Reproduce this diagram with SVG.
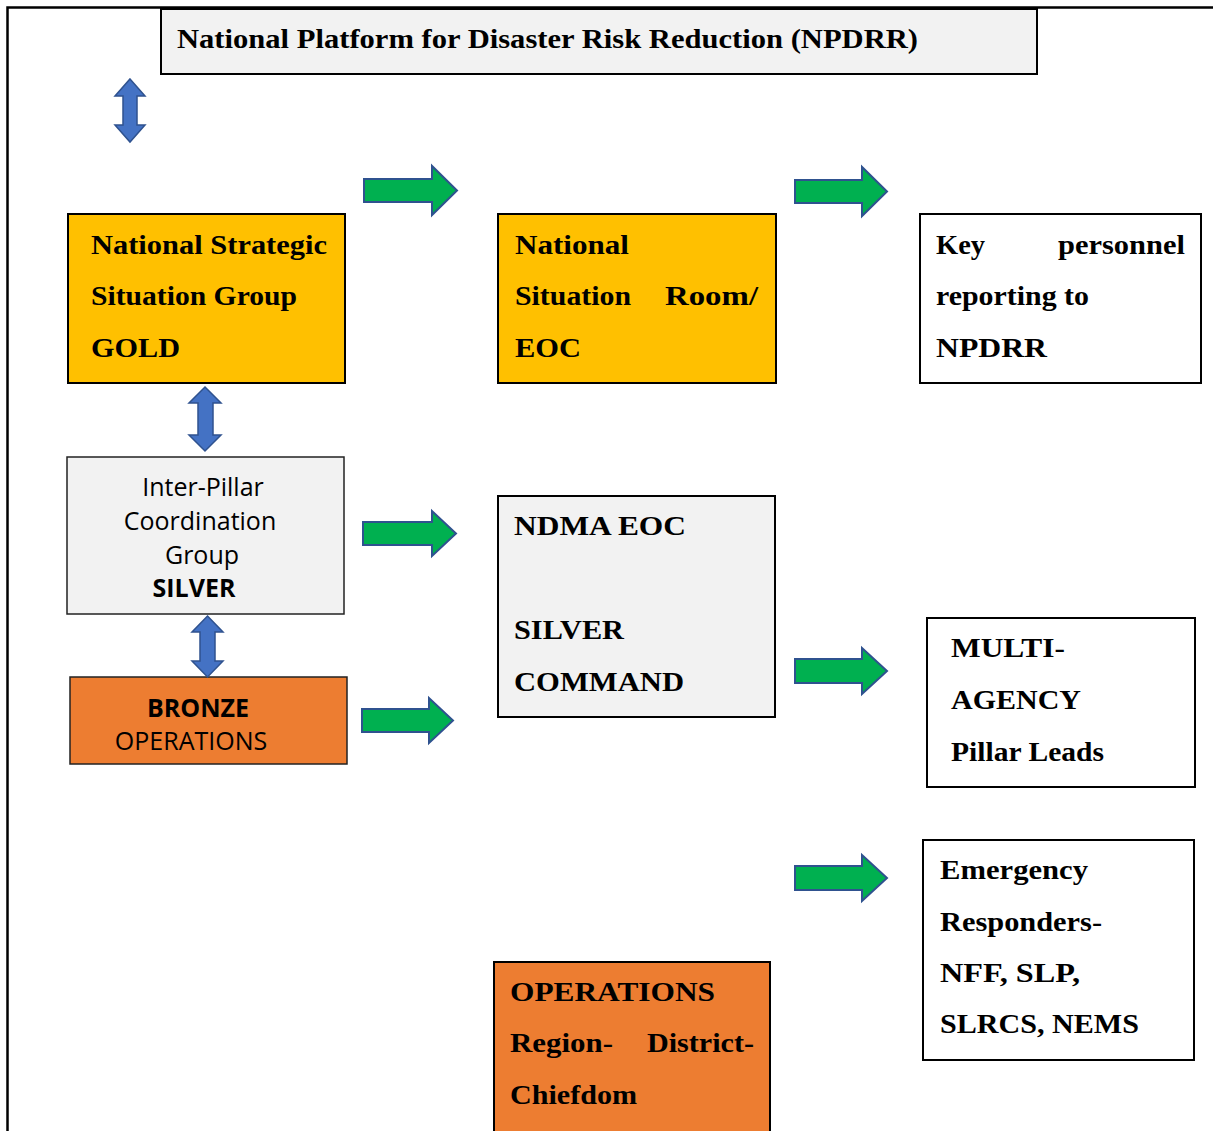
<svg xmlns="http://www.w3.org/2000/svg" width="1213" height="1131" viewBox="0 0 1213 1131">
<style>
.box{stroke:#000;stroke-width:2}
.thin{stroke:#222;stroke-width:1.5}
.gold{fill:#ffc000}
.grey{fill:#f2f2f2}
.white{fill:#fff}
.orange{fill:#ed7d31}
.serif{font-family:"Liberation Serif","Times New Roman",serif;font-weight:bold;font-size:28px;fill:#000}
.sans{font-family:"Open Sans","Liberation Sans",sans-serif;font-size:25px;fill:#000}
.b{font-weight:bold}
.blue{fill:#4472c4;stroke:#2f528f;stroke-width:1.5}
.green{fill:#00b050;stroke:#2f528f;stroke-width:2}
</style>
<rect width="1213" height="1131" fill="#fff"/>
<path d="M7.5 1131 V7.5 H1213" fill="none" stroke="#000" stroke-width="2.5"/>

<g id="npdrr">
<rect class="box grey" x="161" y="9" width="876" height="65"/>
<text class="serif" x="177" y="48" font-size="27" textLength="741" lengthAdjust="spacingAndGlyphs">National Platform for Disaster Risk Reduction (NPDRR)</text>
</g>

<g id="gold">
<rect class="box gold" x="68" y="214" width="277" height="169"/>
<text class="serif" x="91" y="254" textLength="236" lengthAdjust="spacingAndGlyphs">National Strategic</text>
<text class="serif" x="91" y="305" textLength="206" lengthAdjust="spacingAndGlyphs">Situation Group</text>
<text class="serif" x="91" y="357" textLength="89" lengthAdjust="spacingAndGlyphs">GOLD</text>
</g>

<g id="situation-room">
<rect class="box gold" x="498" y="214" width="278" height="169"/>
<text class="serif" x="515" y="254" textLength="114" lengthAdjust="spacingAndGlyphs">National</text>
<text class="serif" x="515" y="305" textLength="116" lengthAdjust="spacingAndGlyphs">Situation</text>
<text class="serif" x="665" y="305" textLength="93" lengthAdjust="spacingAndGlyphs">Room/</text>
<text class="serif" x="515" y="357" textLength="66" lengthAdjust="spacingAndGlyphs">EOC</text>
</g>

<g id="key-personnel">
<rect class="box white" x="920" y="214" width="281" height="169"/>
<text class="serif" x="936" y="254" textLength="49" lengthAdjust="spacingAndGlyphs">Key</text>
<text class="serif" x="1058" y="254" textLength="127" lengthAdjust="spacingAndGlyphs">personnel</text>
<text class="serif" x="936" y="305" textLength="153" lengthAdjust="spacingAndGlyphs">reporting to</text>
<text class="serif" x="936" y="357" textLength="111" lengthAdjust="spacingAndGlyphs">NPDRR</text>
</g>

<g id="silver">
<rect class="thin grey" x="67" y="457" width="277" height="157"/>
<text class="sans" x="203" y="496" text-anchor="middle">Inter-Pillar</text>
<text class="sans" x="200" y="530" text-anchor="middle">Coordination</text>
<text class="sans" x="202" y="564" text-anchor="middle">Group</text>
<text class="sans b" x="194" y="597" text-anchor="middle">SILVER</text>
</g>

<g id="bronze">
<rect class="thin orange" x="70" y="677" width="277" height="87"/>
<text class="sans b" x="198" y="717" text-anchor="middle">BRONZE</text>
<text class="sans" x="191" y="750" text-anchor="middle">OPERATIONS</text>
</g>

<g id="ndma-eoc">
<rect class="box grey" x="498" y="496" width="277" height="221"/>
<text class="serif" x="514" y="535" textLength="172" lengthAdjust="spacingAndGlyphs">NDMA EOC</text>
<text class="serif" x="514" y="639" textLength="110" lengthAdjust="spacingAndGlyphs">SILVER</text>
<text class="serif" x="514" y="691" textLength="170" lengthAdjust="spacingAndGlyphs">COMMAND</text>
</g>

<g id="multi-agency">
<rect class="box white" x="927" y="618" width="268" height="169"/>
<text class="serif" x="951" y="657" textLength="114" lengthAdjust="spacingAndGlyphs">MULTI-</text>
<text class="serif" x="951" y="709" textLength="130" lengthAdjust="spacingAndGlyphs">AGENCY</text>
<text class="serif" x="951" y="761" textLength="153" lengthAdjust="spacingAndGlyphs">Pillar Leads</text>
</g>

<g id="emergency">
<rect class="box white" x="923" y="840" width="271" height="220"/>
<text class="serif" x="940" y="879" textLength="148" lengthAdjust="spacingAndGlyphs">Emergency</text>
<text class="serif" x="940" y="931" textLength="162" lengthAdjust="spacingAndGlyphs">Responders-</text>
<text class="serif" x="940" y="982" textLength="140" lengthAdjust="spacingAndGlyphs">NFF, SLP,</text>
<text class="serif" x="940" y="1033" textLength="199" lengthAdjust="spacingAndGlyphs">SLRCS, NEMS</text>
</g>

<g id="operations">
<rect class="box orange" x="494" y="962" width="276" height="172"/>
<text class="serif" x="510" y="1001" textLength="205" lengthAdjust="spacingAndGlyphs">OPERATIONS</text>
<text class="serif" x="510" y="1052" textLength="103" lengthAdjust="spacingAndGlyphs">Region-</text>
<text class="serif" x="647" y="1052" textLength="107" lengthAdjust="spacingAndGlyphs">District-</text>
<text class="serif" x="510" y="1104" textLength="127" lengthAdjust="spacingAndGlyphs">Chiefdom</text>
</g>

<g id="connectors">
<polygon class="blue" points="130,79 145,96 137,96 137,125 145,125 130,142 115,125 123,125 123,96 115,96"/>
<polygon class="blue" points="205,387 221,403 213,403 213,435 221,435 205,451 189,435 198,435 198,403 189,403"/>
<polygon class="blue" points="207.5,616 223,632 215,632 215,661 223,661 207.5,677 192,661 200,661 200,632 192,632"/>

<polygon class="green" points="364,179 432,179 432,166 457,190.5 432,215 432,202 364,202"/>
<polygon class="green" points="795,180 862,180 862,167 887,191.5 862,216 862,203 795,203"/>
<polygon class="green" points="363,522 432,522 432,511 456,533.5 432,556 432,545 363,545"/>
<polygon class="green" points="362,709 429,709 429,698 453,720.5 429,743 429,732 362,732"/>
<polygon class="green" points="795,659 862,659 862,648 887,671 862,694 862,683 795,683"/>
<polygon class="green" points="795,866 862,866 862,855 887,878 862,901 862,890 795,890"/>
</g>
</svg>
